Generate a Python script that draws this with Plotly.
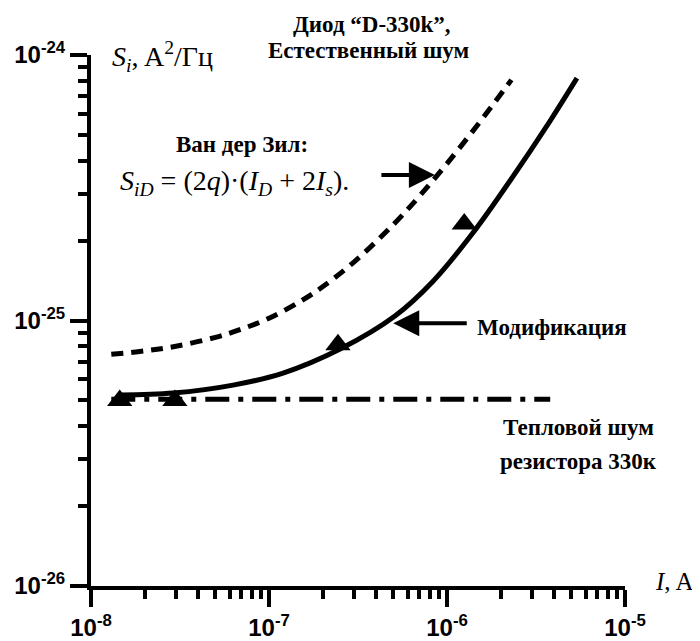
import plotly.graph_objects as go

# Van der Ziel curve (dashed)
vdz_I = [1.3e-8, 2e-8, 3e-8, 5e-8, 7e-8, 1e-7, 1.5e-7, 2e-7, 3e-7, 5e-7, 7e-7, 1e-6, 1.5e-6, 2.3e-6]
vdz_S = [7.46e-26, 7.68e-26, 8.0e-26, 8.64e-26, 9.28e-26, 1.02e-25, 1.18e-25, 1.34e-25,
         1.66e-25, 2.30e-25, 2.94e-25, 3.90e-25, 5.50e-25, 8.06e-25]

# Modification curve (solid)
mod_I = [1.46e-8, 2.89e-8, 6.28e-8, 1.2e-7, 2.51e-7, 5.1e-7, 8.3e-7, 1.4e-6, 2.26e-6, 3.79e-6, 5.37e-6]
mod_S = [5.24e-26, 5.33e-26, 5.71e-26, 6.34e-26, 7.81e-26, 1.04e-25, 1.40e-25, 2.14e-25,
         3.36e-25, 5.64e-25, 8.18e-25]

# Thermal noise of 330k resistor (dash-dot)
th_I = [1.3e-8, 3.8e-6]
th_S = [5.05e-26, 5.05e-26]

# Measured points (triangles)
meas_I = [1.45e-8, 2.96e-8, 2.44e-7, 1.25e-6]
meas_S = [5.0e-26, 5.0e-26, 8.1e-26, 2.31e-25]

x_tickvals = [1e-8, 1e-7, 1e-6, 1e-5]
x_ticktext = ["10<sup>-8</sup>", "10<sup>-7</sup>", "10<sup>-6</sup>", "10<sup>-5</sup>"]
y_tickvals = [1e-26, 1e-25, 1e-24]
y_ticktext = ["10<sup>-26</sup>", "10<sup>-25</sup>", "10<sup>-24</sup>"]
minor_digits = [2, 3, 4, 5, 6, 7, 8, 9]
x_minor = [d * 10.0 ** e for e in (-8, -7, -6) for d in minor_digits]
y_minor = [d * 10.0 ** e for e in (-26, -25) for d in minor_digits]

SERIF = "Liberation Serif"
SANS = "Liberation Sans"

fig = go.Figure()
fig.add_trace(go.Scatter(x=vdz_I, y=vdz_S, mode="lines", line=dict(color="black", width=5, dash="12px,8px", shape="spline"), showlegend=False))
fig.add_trace(go.Scatter(x=th_I, y=th_S, mode="lines", line=dict(color="black", width=5, dash="24px,9px,5px,9px"), showlegend=False))
fig.add_trace(go.Scatter(x=mod_I, y=mod_S, mode="lines", line=dict(color="black", width=5, shape="spline", smoothing=1.0), showlegend=False))
fig.add_trace(go.Scatter(x=meas_I, y=meas_S, mode="markers", marker=dict(symbol="triangle-up", size=22, color="black"), showlegend=False))

def axis_common(minor_vals):
    return dict(
        type="log", showgrid=False, zeroline=False, showline=True, linecolor="black", linewidth=4,
        ticks="outside", ticklen=17, tickwidth=4, tickcolor="black", automargin=False,
        tickfont=dict(family=SANS, size=24, color="black", weight="bold"),
        minor=dict(ticks="outside", ticklen=9, tickwidth=4, tickcolor="black",
                   tickmode="array", tickvals=minor_vals, showgrid=False),
    )

fig.update_xaxes(range=[-8, -5], tickmode="array", tickvals=x_tickvals, ticktext=x_ticktext, **axis_common(x_minor))
fig.update_yaxes(range=[-26, -24], tickmode="array", tickvals=y_tickvals, ticktext=y_ticktext, **axis_common(y_minor))

ann = []
def txt(text, x, y, size=20, family=SERIF, xanchor="center", bold=False):
    ann.append(dict(text=text, x=x, y=y, xref="paper", yref="paper", showarrow=False,
                    xanchor=xanchor, yanchor="middle",
                    font=dict(family=family, size=size, color="black", weight="bold" if bold else "normal")))

txt("Диод “D-330k”,", 0.526, 1.058, size=23, bold=True)
txt("Естественный шум", 0.519, 1.009, size=23, bold=True)
txt("<i>S<sub>i</sub></i>, A<sup>2</sup>/Гц", 0.036, 0.998, size=28, xanchor="left")
txt("<i>I</i>, A", 1.053, 0.008, size=25, xanchor="left")
txt("Ван дер Зил:", 0.283, 0.831, size=23, bold=True)
txt("<i>S<sub>iD</sub></i> = (2<i>q</i>)·(<i>I<sub>D</sub></i> + 2<i>I<sub>s</sub></i>).", 0.268, 0.759, size=28)
txt("Модификация", 0.719, 0.486, size=23, bold=True, xanchor="left")
txt("Тепловой шум", 0.912, 0.299, size=23, bold=True)
txt("резистора 330к", 0.912, 0.234, size=23, bold=True)

# arrows
ann.append(dict(x=0.644, y=0.774, xref="paper", yref="paper", ax=-55, ay=0, text="", showarrow=True,
                arrowhead=2, arrowsize=1.3, arrowwidth=4, arrowcolor="black"))
ann.append(dict(x=0.566, y=0.495, xref="paper", yref="paper", ax=75, ay=0, text="", showarrow=True,
                arrowhead=2, arrowsize=1.3, arrowwidth=4, arrowcolor="black"))

# page has an 8px body margin: figure sized to fill the remaining window
fig.update_layout(
    template="none",
    width=692, height=633,
    margin=dict(l=83, r=75, t=47, b=55),
    plot_bgcolor="white", paper_bgcolor="white",
    annotations=ann,
)

fig.write_html("out.html")
